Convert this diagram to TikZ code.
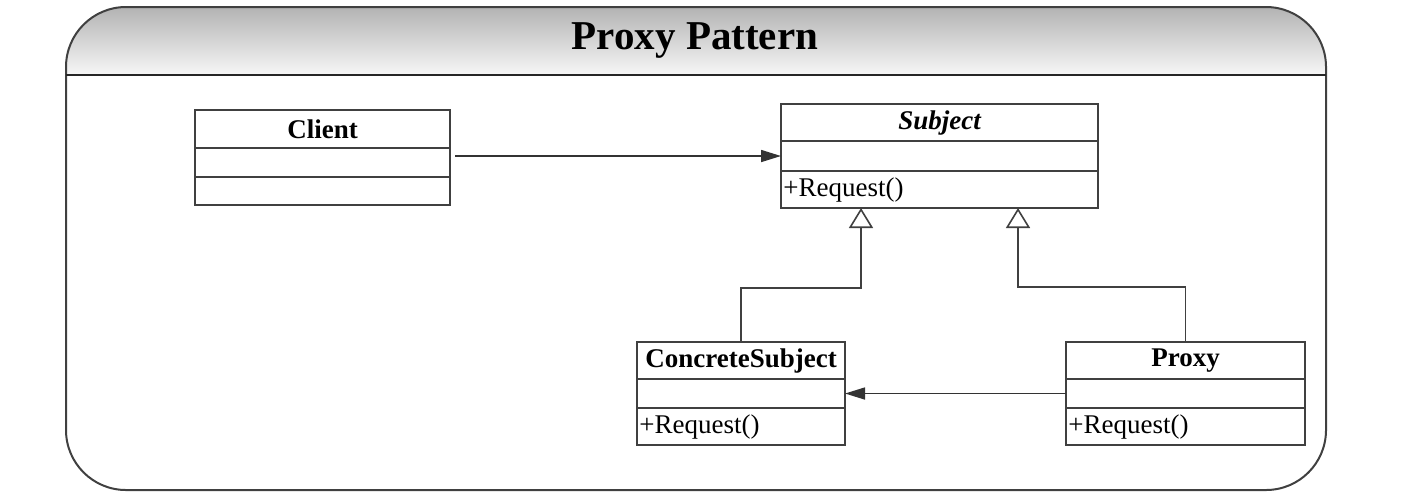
\documentclass[tikz,border=0pt]{standalone}
\usepackage{fontspec}
\setmainfont{Liberation Serif}
\usetikzlibrary{positioning,arrows.meta}

\tikzset{
  uml/.style={draw=black!75, line width=0.9pt, inner sep=0pt, outer sep=0pt, fill=white},
  namebox/.style={uml, minimum height=18.5pt, font=\fontsize{13.5}{16}\selectfont\bfseries},
  attrbox/.style={uml, minimum height=14.5pt},
  opsbox/.style={uml, minimum height=18.5pt},
  optext/.style={right, inner sep=1pt, font=\fontsize{13.5}{16}\selectfont},
  assoc/.style={draw=black!80, line width=0.8pt, -{Triangle[length=10pt,width=6pt]}},
  inherit/.style={draw=black!75, line width=0.8pt, -{Triangle[open,length=10pt,width=12pt,fill=white]}},
}

\begin{document}
\begin{tikzpicture}[x=0.5pt,y=-0.5pt]
            \useasboundingbox (0,0) rectangle (1411,500);
            %frame
            \begin{scope}
              \clip[rounded corners=30pt] (66,7) rectangle (1326,490);
              \shade[top color=black!30, bottom color=black!3] (66,7) rectangle (1326,75);
            \end{scope}
            \draw[black!75, line width=1pt, rounded corners=30pt] (66,7) rectangle (1326,490);
            \draw[black!85, line width=1.2pt] (66,75) -- (1326,75);
            \node[font=\fontsize{20.5}{24}\selectfont\bfseries] (title) at (695,40) {Proxy Pattern};
            %classes
            \node[namebox, minimum width=127.5pt, minimum height=19pt] (client) at (322.5,129) {Client};
            \node[attrbox, minimum width=127.5pt, below=0pt of client] (clientattr) {};
            \node[opsbox, minimum width=127.5pt, minimum height=14pt, below=0pt of clientattr] (clientops) {};

            \node[namebox, minimum width=158.5pt] (subj) at (939.5,122.5) {\itshape Subject};
            \node[attrbox, minimum width=158.5pt, minimum height=15pt, below=0pt of subj] (subjattr) {};
            \node[opsbox, minimum width=158.5pt, below=0pt of subjattr] (subjops) {};
            \node[optext] (subjop) at (subjops.west) {+Request()};

            \node[namebox, minimum width=104pt] (cs) at (741,360.5) {ConcreteSubject};
            \node[attrbox, minimum width=104pt, below=0pt of cs] (csattr) {};
            \node[opsbox, minimum width=104pt, below=0pt of csattr] (csops) {};
            \node[optext] (csop) at (csops.west) {+Request()};

            \node[namebox, minimum width=119.5pt] (proxy) at (1185.5,360.5) {Proxy};
            \node[attrbox, minimum width=119.5pt, below=0pt of proxy] (proxyattr) {};
            \node[opsbox, minimum width=119.5pt, below=0pt of proxyattr] (proxyops) {};
            \node[optext] (proxyop) at (proxyops.west) {+Request()};
            %links
            \coordinate (csin) at (861,208);
            \coordinate (pxin) at (1018,208);
            \draw[assoc, shorten <=2.5pt] (clientattr.east |- subjattr.west) -- (subjattr.west);
            \draw[assoc] (proxyattr.west) -- (csattr.east);
            \draw[inherit] (cs.north) -- ++(0,-54) -| (csin);
            \draw[inherit] (proxy.north) -- ++(0,-55) -| (pxin);
         \end{tikzpicture}
\end{document}
